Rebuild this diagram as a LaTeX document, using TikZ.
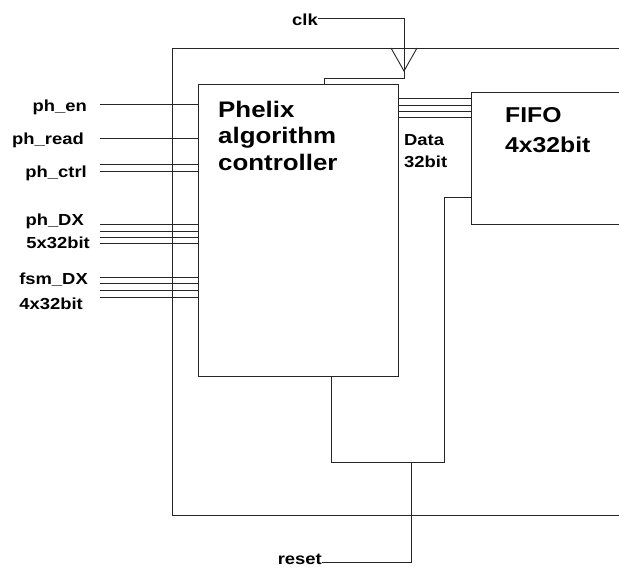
\documentclass[tikz,border=0pt]{standalone}
\usepackage{fontspec}
\setmainfont{Liberation Sans}[FakeStretch=1.15]
\newcommand\lblfont{\fontsize{16}{22}\selectfont\bfseries}
\newcommand\bigfont{\fontsize{22.5}{26.5}\selectfont\bfseries}
\newcommand\fifofont{\fontsize{21.5}{30}\selectfont\bfseries}
\begin{document}
\begin{tikzpicture}[x=1pt,y=-1pt,
  wire/.style={draw=black!85, line width=0.9pt},
  lbl/.style={font=\lblfont, inner sep=0pt, anchor=base east},
  txt/.style={align=left, anchor=base west, inner sep=0pt},
  box/.style={draw=black!85, line width=0.9pt, inner sep=0pt, anchor=north west}]
\useasboundingbox (0,0) rectangle (619,576);

% boxes
\node[box, minimum width=200pt, minimum height=292pt] (phelix) at (198,84) {};
\node[box, minimum width=148pt, minimum height=132pt] (fifo) at (471,92) {};

% texts (base anchor = baseline of last line)
\node[txt, font=\bigfont] (phtxt) at (218,170) {Phelix\\algorithm\\controller};
\node[txt, font=\fifofont] (fifotxt) at (505,152) {FIFO\\4x32bit};
\node[txt, font=\lblfont] (datatxt) at (404,167) {Data\\32bit};

% labels
\node[lbl] (en) at (87,111) {ph\_en};
\node[lbl] (rd) at (84,144) {ph\_read};
\node[lbl] (ctrl) at (87,177) {ph\_ctrl};
\node[lbl] (dx) at (84,225) {ph\_DX};
\node[lbl] (dxw) at (90,248) {5x32bit};
\node[lbl] (fsm) at (88,284) {fsm\_DX};
\node[lbl] (fsmw) at (83,309) {4x32bit};
\node[lbl] (clk) at (318,25) {clk};
\node[lbl] (reset) at (322,564) {reset};

% inputs
\foreach \n/\y in {en/104, rd/138, c1/164, c2/171, d1/224, d2/231, d3/237, d4/243, f1/277, f2/283, f3/290, f4/297} {
  \coordinate (in-\n) at (100,\y);
  \draw[wire] (in-\n) -- (in-\n -| phelix.west);
}

% data bus
\foreach \y in {98,105,111,117}
  \draw[wire] (phelix.east |- 0,\y) -- (fifo.west |- 0,\y);

% outer frame
\draw[wire] (619,48) -- (172,48) -- (172,515) -- (619,515);

% clock
\coordinate (clkc) at (404,18);
\coordinate (clkd) at (404,78);
\coordinate (clkl) at (324,78);
\draw[wire] (clk.east |- clkc) -- (clkc) -- (clkd) -- (clkl) -- (clkl |- phelix.north);
\draw[wire] (391,48) -- (404,71) -- (417,48);

% reset
\coordinate (rj) at (411,462);
\coordinate (fb) at (444,197);
\draw[wire] (reset.east |- 0,562) -- (411,562) -- (rj);
\draw[wire] (phelix.south -| 331,0) -- (331,462) -- (444,462) -- (fb) -- (fb -| fifo.west);
\end{tikzpicture}
\end{document}
